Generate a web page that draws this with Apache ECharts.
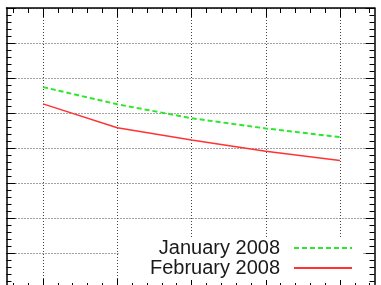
<!DOCTYPE html>
<html>
<head>
<meta charset="utf-8">
<script src="https://cdn.jsdelivr.net/npm/echarts@6/dist/echarts.min.js"></script>
<style>
  html, body { margin: 0; padding: 0; background: #fff; overflow: hidden; width: 381px; height: 285px; }
  /* the canvas is a bit larger than the window: the plot frame is cropped like the original picture */
  #chart { position: absolute; left: -40px; top: 0; width: 470px; height: 295px; }
</style>
</head>
<body>
<div id="chart"></div>
<script>
// data (axis labels are cropped, units are grid steps)
const xValues = [0, 1, 2, 3, 4];
const january2008 = [5.74, 5.25, 4.85, 4.56, 4.31];
const february2008 = [5.26, 4.58, 4.23, 3.91, 3.64];
const seriesNames = ['January 2008', 'February 2008'];

const chart = echarts.init(document.getElementById('chart'));

const border = { show: true, onZero: false, lineStyle: { color: '#000', width: 1.5 } };
const ticks = { show: true, inside: true, length: 9, lineStyle: { color: '#000', width: 1 } };
const minor = { show: true, splitNumber: 5, length: 5, lineStyle: { color: '#000', width: 1 } };
const dots = { show: true, lineStyle: { color: '#444', width: 1, type: [1, 2] } };
const off = { show: false };

// grid 0: the visible frame (borders, y ticks, horizontal grid)
// grid 1: wider grid whose x range starts on a whole step, so the x ticks line up;
//         the part outside the frame is off the window
function frameX(position) {
  return {
    type: 'value', gridIndex: 0, position, min: 0, max: 1,
    axisLine: border, axisTick: off, minorTick: off, splitLine: off, axisLabel: off
  };
}
function tickX(position, grid) {
  return {
    type: 'value', gridIndex: 1, position, min: -1, max: 5, interval: 1,
    axisLine: off, axisTick: ticks, minorTick: minor,
    splitLine: grid ? dots : off, axisLabel: off
  };
}
function frameY(position, grid) {
  return {
    type: 'value', gridIndex: 0, position, min: 0, max: 8, interval: 1,
    axisLine: border, axisTick: ticks, minorTick: minor,
    splitLine: grid ? dots : off, axisLabel: off
  };
}

const option = {
  animation: false,
  backgroundColor: '#fff',
  grid: [
    { left: 46.5, right: 55.5, top: 8, bottom: 7 },
    { left: 8.75, right: 15.75, top: 8, bottom: 7 }
  ],
  xAxis: [frameX('bottom'), frameX('top'), tickX('bottom', true), tickX('top', false)],
  yAxis: [
    frameY('left', true),
    frameY('right', false),
    { type: 'value', gridIndex: 1, min: 0, max: 8, show: false }
  ],
  legend: {
    data: seriesNames,
    orient: 'vertical',
    align: 'right',
    right: 68,
    top: 237,
    padding: [1, 9, 2, 31],
    itemWidth: 58,
    itemHeight: 14,
    itemGap: 0,
    backgroundColor: '#fff',
    selectedMode: false,
    itemStyle: { color: 'rgba(0,0,0,0)', borderWidth: 0 },
    textStyle: {
      fontFamily: 'Liberation Sans',
      fontSize: 20,
      lineHeight: 20,
      color: '#1a1a1a',
      padding: [0, 9, 0, 0]
    }
  },
  series: [
    {
      name: seriesNames[0],
      type: 'line',
      xAxisIndex: 2,
      yAxisIndex: 2,
      symbol: 'none',
      data: xValues.map((x, i) => [x, january2008[i]]),
      lineStyle: { color: '#2ee62e', width: 2, type: [5, 3] },
      itemStyle: { color: '#2ee62e' }
    },
    {
      name: seriesNames[1],
      type: 'line',
      xAxisIndex: 2,
      yAxisIndex: 2,
      symbol: 'none',
      data: xValues.map((x, i) => [x, february2008[i]]),
      lineStyle: { color: '#ff3333', width: 1.5 },
      itemStyle: { color: '#ff3333' }
    }
  ]
};

chart.setOption(option);
</script>
</body>
</html>
